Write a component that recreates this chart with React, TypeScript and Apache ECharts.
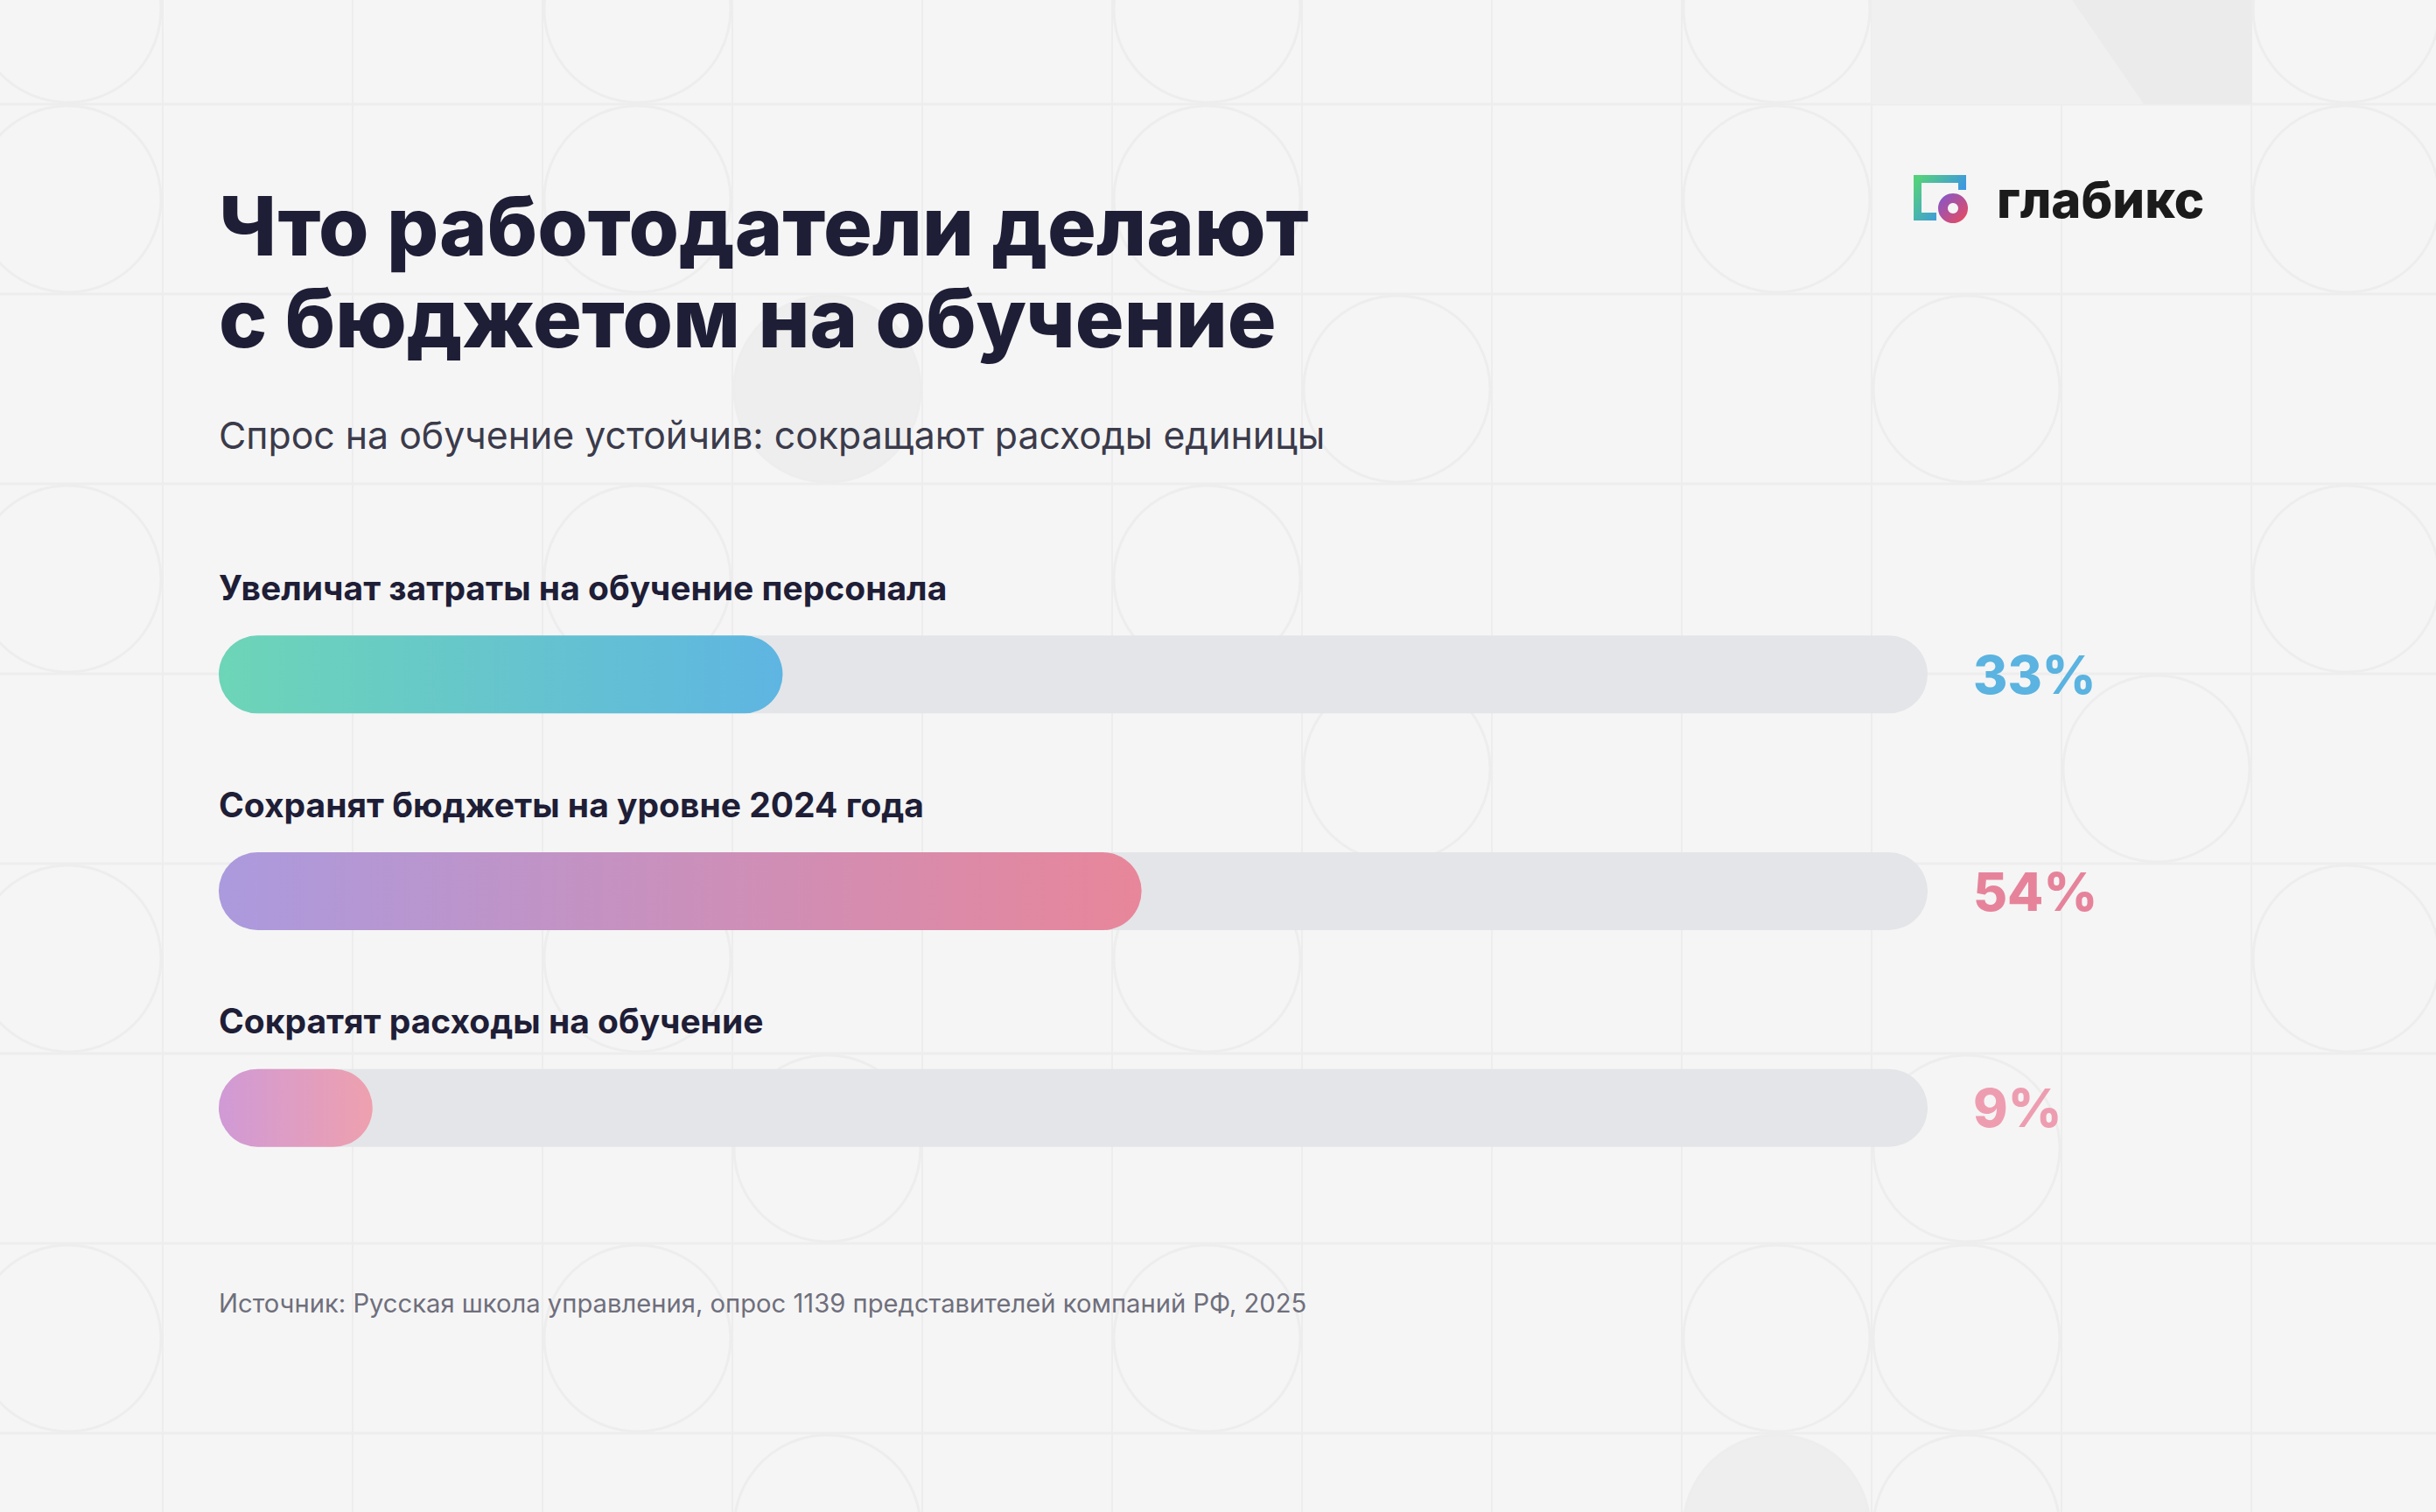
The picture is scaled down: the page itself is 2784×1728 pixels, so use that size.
import React, { useEffect, useRef } from "react";
import * as echarts from "echarts";

// ---- data ----
const categories = [
  "Увеличат затраты на обучение персонала",
  "Сохранят бюджеты на уровне 2024 года",
  "Сократят расходы на обучение",
];
const values = [33, 54, 9];
const AXIS_MAX = 100;
const barGradients = [
  ["#6dd5b7", "#5eb5e2"],
  ["#ab9ade", "#e8869a"],
  ["#d09ad6", "#eea0ae"],
];
const valueColors = ["#5ab3e0", "#e6839b", "#ee9db1"];
const titleLines = ["Что работодатели делают", "с бюджетом на обучение"];
const subtitle = "Спрос на обучение устойчив: сокращают расходы единицы";
const source =
  "Источник: Русская школа управления, опрос 1139 представителей компаний РФ, 2025";
const brand = "глабикс";

// decorative background pattern cells [col, row, filled]
const patternCircles: [number, number, number][] = [
  [0, 0, 0], [0, 1, 0], [0, 3, 0], [0, 5, 0], [0, 7, 0],
  [3, 0, 0], [3, 1, 0], [3, 3, 0], [3, 5, 0], [3, 7, 0],
  [4, 2, 1], [4, 6, 0], [4, 8, 0],
  [6, 0, 0], [6, 1, 0], [6, 3, 0], [6, 5, 0], [6, 7, 0],
  [7, 2, 0], [7, 4, 0],
  [9, 0, 0], [9, 1, 0], [9, 7, 0], [9, 8, 1],
  [10, 2, 0], [10, 6, 0], [10, 7, 0], [10, 8, 0],
  [11, 4, 0],
  [12, 0, 0], [12, 1, 0], [12, 3, 0], [12, 5, 0],
];

const W = 2784;
const H = 1728;
const FONT = "Inter, 'Noto Sans', sans-serif";

function buildGraphics(): any[] {
  const els: any[] = [];
  const cell = 217;
  const x0 = -31;
  const y0 = -98;
  const lineColor = "#ededed";
  for (let j = 1; j <= 8; j++) {
    const y = y0 + cell * j;
    els.push({ type: "line", shape: { x1: 0, y1: y, x2: W, y2: y }, style: { stroke: lineColor, lineWidth: 3 }, silent: true });
  }
  for (let i = 1; i <= 12; i++) {
    const x = x0 + cell * i;
    els.push({ type: "line", shape: { x1: x, y1: 0, x2: x, y2: H }, style: { stroke: lineColor, lineWidth: 2 }, silent: true });
  }
  // top-right block
  els.push({ type: "rect", shape: { x: 2139, y: 0, width: 435, height: 119 }, style: { fill: "#f0f0f0" }, silent: true });
  els.push({ type: "polygon", shape: { points: [[2368, 0], [2574, 0], [2574, 119], [2450, 119]] }, style: { fill: "#ebebeb" }, silent: true });
  patternCircles.forEach(([i, j, f]) => {
    const cx = x0 + cell * i + cell / 2;
    const cy = y0 + cell * j + cell / 2;
    els.push({
      type: "circle",
      shape: { cx, cy, r: cell / 2 - 2 },
      style: f ? { fill: "#eeeeee", stroke: lineColor, lineWidth: 3 } : { fill: "none", stroke: lineColor, lineWidth: 3 },
      silent: true,
    });
  });

  // title
  els.push({ type: "text", x: 250, y: 258, style: { text: titleLines[0], fontSize: 93, fontWeight: 800, fontFamily: FONT, fill: "#1f1e37", verticalAlign: "middle", align: "left" }, z: 10 });
  els.push({ type: "text", x: 250, y: 363, style: { text: titleLines[1], fontSize: 93, fontWeight: 800, fontFamily: FONT, fill: "#1f1e37", verticalAlign: "middle", align: "left" }, z: 10 });
  // subtitle
  els.push({ type: "text", x: 250, y: 497, style: { text: subtitle, fontSize: 42.8, fontWeight: 400, fontFamily: FONT, fill: "#3b3b4b", verticalAlign: "middle", align: "left" }, z: 10 });
  // source
  els.push({ type: "text", x: 250, y: 1489, style: { text: source, fontSize: 29.2, fontWeight: 400, fontFamily: FONT, fill: "#6f6f7c", verticalAlign: "middle", align: "left" }, z: 10 });

  // logo
  els.push({
    type: "polyline",
    shape: { points: [[2242.5, 217], [2242.5, 204.5], [2191.5, 204.5], [2191.5, 247.5], [2213, 247.5]] },
    style: {
      fill: "none",
      lineWidth: 9,
      lineJoin: "miter",
      stroke: new echarts.graphic.LinearGradient(0, 0, 1, 0.6, [
        { offset: 0, color: "#55d17c" },
        { offset: 1, color: "#3a8ff0" },
      ]),
    },
    z: 10,
  });
  els.push({
    type: "ring",
    shape: { cx: 2232, cy: 238, r: 17, r0: 6 },
    style: {
      fill: new echarts.graphic.LinearGradient(0, 0, 1, 1, [
        { offset: 0, color: "#7d58d2" },
        { offset: 1, color: "#ee4a58" },
      ]),
    },
    z: 10,
  });
  els.push({ type: "text", x: 2282, y: 228, style: { text: brand, fontSize: 58, fontWeight: 800, fontFamily: FONT, fill: "#1b1b1b", verticalAlign: "middle", align: "left" }, z: 10 });
  return els;
}

export default function App() {
  const ref = useRef<HTMLDivElement>(null);
  useEffect(() => {
    document.body.style.margin = "0";
    if (!ref.current) return;
    const chart = echarts.init(ref.current, undefined, { renderer: "svg", width: W, height: H });
    const option: any = {
      animation: false,
      backgroundColor: "#f5f5f5",
      grid: { left: 250, top: 647, width: 1953, height: 743 },
      xAxis: { type: "value", min: 0, max: AXIS_MAX, show: false },
      yAxis: { type: "category", data: categories, inverse: true, show: false },
      graphic: { elements: buildGraphics() },
      series: [
        {
          type: "bar",
          silent: true,
          z: 2,
          barWidth: 89,
          barGap: "-100%",
          data: categories.map((_, i) => ({ value: AXIS_MAX, label: { color: valueColors[i] } })),
          itemStyle: { color: "#e4e5e8", borderRadius: 44.5 },
          label: {
            show: true,
            position: "right",
            distance: 52,
            formatter: (p: any) => values[p.dataIndex] + "%",
            fontSize: 60,
            fontWeight: 800,
            fontFamily: FONT,
          },
        },
        {
          type: "bar",
          silent: true,
          z: 3,
          barWidth: 89,
          barGap: "-100%",
          data: values.map((v, i) => ({
            value: v,
            itemStyle: {
              color: new echarts.graphic.LinearGradient(0, 0, 1, 0, [
                { offset: 0, color: barGradients[i][0] },
                { offset: 1, color: barGradients[i][1] },
              ]),
            },
          })),
          itemStyle: { borderRadius: 44.5 },
          label: {
            show: true,
            position: [0, -55],
            formatter: "{b}",
            align: "left",
            verticalAlign: "middle",
            fontSize: 39,
            fontWeight: 700,
            fontFamily: FONT,
            color: "#1f1e37",
          },
        },
      ],
    };
    chart.setOption(option);
    return () => chart.dispose();
  }, []);
  return <div ref={ref} style={{ position: "absolute", left: 0, top: 0, width: W, height: H }} />;
}
